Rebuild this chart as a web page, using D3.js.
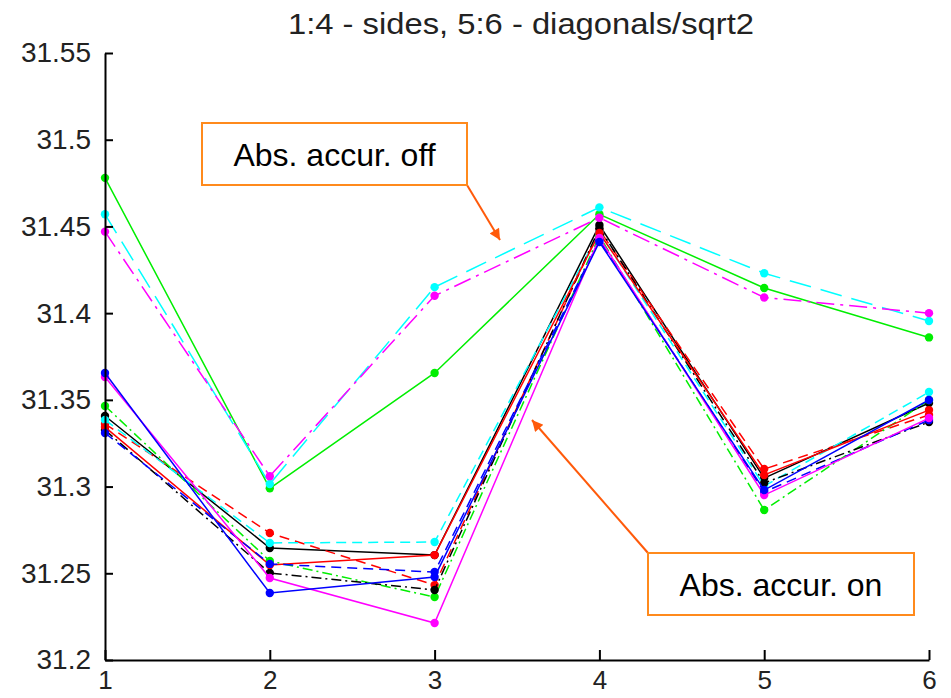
<!DOCTYPE html>
<html>
<head>
<meta charset="utf-8">
<script src="https://cdn.jsdelivr.net/npm/d3@7"></script>
<style>
  html, body { margin: 0; padding: 0; background: #fff; }
  svg { display: block; font-family: "Liberation Sans", Arial, Helvetica, sans-serif; }
</style>
</head>
<body>
<svg id="chart" width="951" height="698"></svg>
<script>
// Measurement positions: 1-4 are sides, 5-6 are diagonals / sqrt2
const positions = [1, 2, 3, 4, 5, 6];
const yTicks = [31.2, 31.25, 31.3, 31.35, 31.4, 31.45, 31.5, 31.55];
const yTickLabels = ["31.2", "31.25", "31.3", "31.35", "31.4", "31.45", "31.5", "31.55"];
const titleText = "1:4 - sides, 5:6 - diagonals/sqrt2";

// Absolute accuracy off
const offGreenSolid   = [31.478, 31.299, 31.3655, 31.457, 31.4145, 31.386];
const offCyanDashed   = [31.457, 31.3015, 31.415, 31.461, 31.423, 31.3955];
const offMagentaDashDot = [31.447, 31.306, 31.410, 31.455, 31.409, 31.400];

// Absolute accuracy on
const onBlackSolid    = [31.3407, 31.2646, 31.2605, 31.4508, 31.3049, 31.3482];
const onRedDashed     = [31.3361, 31.2732, 31.2432, 31.4479, 31.3101, 31.3413];
const onBlueSolid     = [31.3655, 31.2386, 31.2479, 31.4410, 31.2980, 31.3499];
const onGreenDashDot  = [31.3465, 31.2571, 31.2363, 31.4445, 31.2865, 31.3499];
const onCyanDashed    = [31.3384, 31.2675, 31.2680, 31.4468, 31.3003, 31.3545];
const onMagentaSolid  = [31.3632, 31.2473, 31.2213, 31.4433, 31.2951, 31.3395];
const onBlackDashDot  = [31.3326, 31.2502, 31.2404, 31.4490, 31.3021, 31.3372];
const onRedSolid      = [31.3343, 31.2548, 31.2605, 31.4462, 31.3067, 31.3441];
const onBlueDashed    = [31.3309, 31.2554, 31.2507, 31.4422, 31.2969, 31.3384];

const annotations = ["Abs. accur. off", "Abs. accur. on"];

// Line appearance for each series
const dashSolid = null, dashDash = "10,6", dashDashDot = "10,4,2,4";
const seriesList = [
  { values: onBlackSolid,   color: "#000000", dash: dashSolid },
  { values: onRedDashed,    color: "#ff0000", dash: dashDash },
  { values: onGreenDashDot, color: "#00ee00", dash: dashDashDot },
  { values: onCyanDashed,   color: "#00ffff", dash: dashDash },
  { values: onBlackDashDot, color: "#000000", dash: dashDashDot },
  { values: onRedSolid,     color: "#ff0000", dash: dashSolid },
  { values: onBlueDashed,   color: "#0000ff", dash: dashDash },
  { values: onMagentaSolid, color: "#ff00ff", dash: dashSolid },
  { values: onBlueSolid,    color: "#0000ff", dash: dashSolid },
  { values: offGreenSolid,  color: "#00ee00", dash: dashSolid },
  { values: offCyanDashed,  color: "#00ffff", dash: "22,10" },
  { values: offMagentaDashDot, color: "#ff00ff", dash: "18,6,3,6" }
];

const svg = d3.select("#chart");
const plotLeft = 105, plotRight = 929, plotTop = 53, plotBottom = 660;

const x = d3.scaleLinear().domain([1, 6]).range([plotLeft, plotRight]);
const y = d3.scaleLinear().domain([31.2, 31.55]).range([plotBottom, plotTop]);

// Title
svg.append("text")
  .attr("x", (plotLeft + plotRight) / 2 + 4)
  .attr("y", 34)
  .attr("text-anchor", "middle")
  .attr("font-size", 30)
  .attr("fill", "#222")
  .attr("textLength", 466)
  .attr("lengthAdjust", "spacingAndGlyphs")
  .text(titleText);

// Series lines and markers
const line = d3.line()
  .x((d, i) => x(positions[i]))
  .y(d => y(d));

const g = svg.append("g");
seriesList.forEach(s => {
  g.append("path")
    .datum(s.values)
    .attr("d", line)
    .attr("fill", "none")
    .attr("stroke", s.color)
    .attr("stroke-width", 1.5)
    .attr("stroke-dasharray", s.dash);
  g.selectAll(null)
    .data(s.values)
    .enter()
    .append("circle")
    .attr("cx", (d, i) => x(positions[i]))
    .attr("cy", d => y(d))
    .attr("r", 4.2)
    .attr("fill", s.color);
});

// Axes
const yAxis = d3.axisLeft(y)
  .tickValues(yTicks)
  .tickFormat((d, i) => yTickLabels[i])
  .tickSizeInner(-8)
  .tickSizeOuter(0)
  .tickPadding(14);

const xAxis = d3.axisBottom(x)
  .tickValues(positions)
  .tickFormat(d3.format("d"))
  .tickSizeInner(-10)
  .tickSizeOuter(0)
  .tickPadding(11);

const ya = svg.append("g").attr("transform", `translate(${plotLeft},0)`).call(yAxis);
const xa = svg.append("g").attr("transform", `translate(0,${plotBottom})`).call(xAxis);

[ya, xa].forEach(a => {
  a.select(".domain").attr("stroke", "#000").attr("stroke-width", 2);
  a.selectAll(".tick line").attr("stroke", "#000").attr("stroke-width", 2);
  a.selectAll(".tick text")
    .attr("fill", "#222")
    .attr("font-family", "'Liberation Sans', Arial, sans-serif");
});
ya.selectAll(".tick text").attr("font-size", 28);
xa.selectAll(".tick text").attr("font-size", 26);

// Annotation boxes with arrows
const boxColor = "#ff8a1c", arrowColor = "#ff5a0a";
svg.append("defs").append("marker")
  .attr("id", "arrowHead")
  .attr("viewBox", "0 0 10 10")
  .attr("refX", 10).attr("refY", 5)
  .attr("markerWidth", 14).attr("markerHeight", 11)
  .attr("markerUnits", "userSpaceOnUse")
  .attr("orient", "auto")
  .append("path")
  .attr("d", "M0,0 L10,5 L0,10 Z")
  .attr("fill", arrowColor);

const notes = [
  { text: annotations[0], box: [202, 123, 265, 62], from: [467, 185], to: [500, 240] },
  { text: annotations[1], box: [648, 553, 266, 62], from: [648, 553], to: [532, 420] }
];
notes.forEach(n => {
  svg.append("line")
    .attr("x1", n.from[0]).attr("y1", n.from[1])
    .attr("x2", n.to[0]).attr("y2", n.to[1])
    .attr("stroke", arrowColor)
    .attr("stroke-width", 2)
    .attr("marker-end", "url(#arrowHead)");
  svg.append("rect")
    .attr("x", n.box[0]).attr("y", n.box[1])
    .attr("width", n.box[2]).attr("height", n.box[3])
    .attr("fill", "#fff")
    .attr("stroke", boxColor)
    .attr("stroke-width", 2);
  svg.append("text")
    .attr("x", n.box[0] + n.box[2] / 2)
    .attr("y", n.box[1] + 43)
    .attr("text-anchor", "middle")
    .attr("font-size", 32)
    .attr("fill", "#000")
    .attr("font-family", "'Liberation Sans', Arial, sans-serif")
    .text(n.text);
});
</script>
</body>
</html>
